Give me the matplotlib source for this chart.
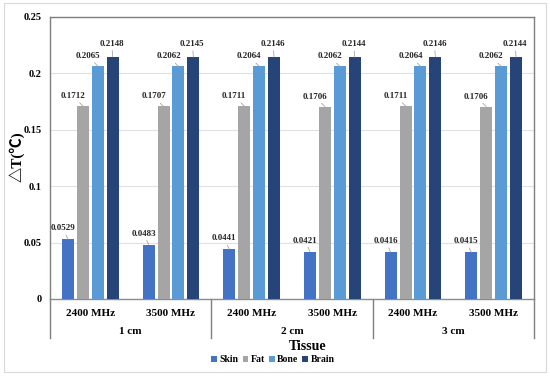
import matplotlib
matplotlib.use("Agg")
import matplotlib.pyplot as plt
import numpy as np
from matplotlib.patches import Rectangle
from matplotlib.lines import Line2D

freqs = ["2400 MHz", "3500 MHz", "2400 MHz", "3500 MHz", "2400 MHz", "3500 MHz"]
depths = ["1 cm", "2 cm", "3 cm"]
series_names = ["Skin", "Fat", "Bone", "Brain"]
skin = [0.0529, 0.0483, 0.0441, 0.0421, 0.0416, 0.0415]
fat = [0.1712, 0.1707, 0.1711, 0.1706, 0.1711, 0.1706]
bone = [0.2065, 0.2062, 0.2064, 0.2062, 0.2064, 0.2062]
brain = [0.2148, 0.2145, 0.2146, 0.2144, 0.2146, 0.2144]
colors = ["#4472C4", "#A5A5A5", "#5B9BD5", "#264478"]
yticks = [0, 0.05, 0.1, 0.15, 0.2, 0.25]
ytick_labels = ["0", "0.05", "0.1", "0.15", "0.2", "0.25"]

SERIF = ["Liberation Serif", "DejaVu Serif"]
plt.rcParams["font.family"] = SERIF

fig = plt.figure(figsize=(5.5, 3.76), dpi=100)
W, H = 550, 376
ax = fig.add_axes([50 / W, 1 - 299 / H, (534 - 50) / W, (299 - 17) / H])

# outer light border
fig.patches.append(Rectangle((4 / W, 1 - 372 / H), 542 / W, 369 / H,
                             transform=fig.transFigure, fill=False,
                             edgecolor="#d9d9d9", lw=0.8))

x = np.arange(len(freqs))
step = 0.185
width = 0.148
data = [skin, fat, bone, brain]
offsets = [(-5, 11), (-10, 10), (-10, 10), (-1, 13)]
for i, (vals, c, name) in enumerate(zip(data, colors, series_names)):
    xs = x + (i - 1.5) * step
    ax.bar(xs, vals, width=width, color=c, label=name, zorder=3)
    for xi, v in zip(xs, vals):
        dx, dy = offsets[i]
        ax.annotate(f"{v:.4f}", xy=(xi, v), xytext=(dx, dy),
                    textcoords="offset pixels", ha="center", va="center",
                    fontsize=6.5, fontweight="bold", color="#262626",
                    arrowprops=dict(arrowstyle="-", color="#a6a6a6", lw=0.6,
                                    shrinkA=0, shrinkB=0),
                    zorder=4)

ax.set_xlim(-0.5, len(freqs) - 0.5)
ax.set_ylim(0, 0.25)
ax.set_yticks(yticks)
ax.set_yticklabels(ytick_labels, fontsize=7.5, fontweight="bold")
ax.set_xticks(x)
ax.set_xticklabels(freqs, fontsize=8, fontweight="bold")
ax.tick_params(axis="both", length=0)
ax.tick_params(axis="x", pad=7)
ax.tick_params(axis="y", pad=6)
ax.grid(axis="y", color="#e0e0e0", lw=0.8, zorder=0)

for s in ["left", "top", "right"]:
    ax.spines[s].set_color("#7f7f7f")
    ax.spines[s].set_linewidth(1.0)
ax.spines["bottom"].set_color("#8c8c8c")
ax.spines["bottom"].set_linewidth(1.0)

# multi-level separators and group labels
ax_h = 299 - 17
ybot = -(338 - 299) / ax_h
trans = ax.get_xaxis_transform()
for xb in [-0.5, 1.5, 3.5, 5.5]:
    ax.add_line(Line2D([xb, xb], [0, ybot], transform=trans, color="#7f7f7f",
                       lw=1.0, clip_on=False))
for k, d in enumerate(depths):
    ax.text(2 * k + 0.5, -(331 - 299) / ax_h, d, transform=trans,
            ha="center", va="center", fontsize=8, fontweight="bold")

fig.text(308 / W, 1 - 346 / H, "Tissue", ha="center", va="center",
         fontsize=10, fontweight="bold")
fig.text(17 / W, 1 - 157 / H, "△T(℃)", rotation=90, ha="center", va="center",
         fontsize=11, fontweight="bold",
         family=["Liberation Serif", "Noto Sans CJK SC", "DejaVu Sans"])

leg = fig.legend(loc="center", bbox_to_anchor=(273 / W, 1 - 360 / H), ncol=4,
                 frameon=False, prop={"weight": "bold", "size": 7},
                 handlelength=0.6, handleheight=0.6, handletextpad=0.25,
                 columnspacing=0.4, borderaxespad=0, borderpad=0)

fig.savefig("out.png", dpi=100)
